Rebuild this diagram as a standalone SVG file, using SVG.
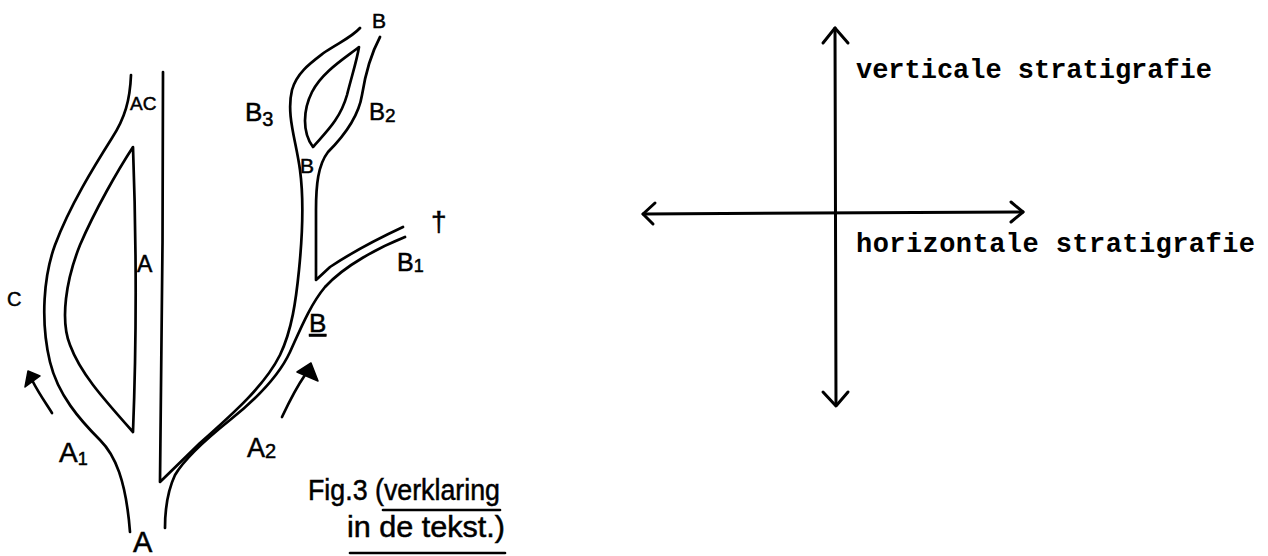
<svg xmlns="http://www.w3.org/2000/svg" width="1268" height="556" viewBox="0 0 1268 556">
<style>
.ln{fill:none;stroke:#000;stroke-width:2.7;stroke-linecap:round;stroke-linejoin:round}
.ax{fill:none;stroke:#000;stroke-width:3;stroke-linecap:round;stroke-linejoin:round}
.hd{fill:#000;stroke:#000;stroke-width:1.5;stroke-linejoin:round}
.lb{font-family:"Liberation Sans","DejaVu Sans",sans-serif;fill:#000;stroke:#000;stroke-width:0.5}
.tw{font-family:"Liberation Mono","DejaVu Sans Mono",monospace;font-weight:bold;fill:#000}
</style>
<rect width="1268" height="556" fill="#fff"/>
<g id="tree">
  <path class="ln" d="M131,75 C130,100 125,118 112,138 C95,165 70,205 55,245 C44,275 40,320 50,362 C58,395 80,420 100,440 C115,455 126,480 130,532"/>
  <path class="ln" d="M133,147 C118,170 95,210 80,245 C66,280 60,320 70,345 C80,372 100,395 133,432 C137,330 136,230 133,147 Z"/>
  <path class="ln" d="M163,72 C163,200 162,380 160,482 L200,443 C235,412 265,385 280,355 C292,330 296,300 299,270 C302,240 304,200 300,170 C296,140 286,115 292,90 C297,72 312,62 325,52 C340,42 352,37 360,28"/>
  <path class="ln" d="M380,37 C372,52 366,70 362,95 C358,120 340,140 328,152 C318,165 316,185 316,210 L316,280 L330,267 C345,257 375,240 403,227"/>
  <path class="ln" d="M405,237 C380,247 345,265 325,287 C310,305 300,330 290,352 C278,378 255,400 230,420 C205,440 185,458 175,475 C168,490 165,510 165,528"/>
  <path class="ln" d="M359,47 C345,58 322,72 312,92 C303,110 302,132 313,147 C325,133 340,120 347,95 C352,75 357,60 359,47 Z"/>
</g>
<g id="flow-arrows">
  <path class="ln" d="M52,413 C45,402 38,392 32,380"/>
  <polygon class="hd" points="25,387 28,371 40,376"/>
  <path class="ln" d="M282,417 C290,400 296,388 305,375"/>
  <polygon class="hd" points="297,372 311,363 318,381"/>
</g>
<g id="tree-labels" class="lb">
  <text x="130" y="110" font-size="19">AC</text>
  <text x="137" y="272" font-size="23">A</text>
  <text x="7" y="306" font-size="20">C</text>
  <text x="133" y="552" font-size="29">A</text>
  <text x="59" y="462" font-size="28">A<tspan font-size="18" dy="3">1</tspan></text>
  <text x="247" y="457" font-size="27">A<tspan font-size="20" dy="1">2</tspan></text>
  <text x="309" y="332" font-size="26" text-decoration="underline">B</text>
  <text x="397" y="271" font-size="25">B<tspan font-size="18" dy="1">1</tspan></text>
  <text x="431" y="231" font-size="28">†</text>
  <text x="372" y="28" font-size="21">B</text>
  <text x="245" y="121" font-size="26">B<tspan font-size="20" dy="5">3</tspan></text>
  <text x="369" y="120" font-size="24">B<tspan font-size="19" dy="2">2</tspan></text>
  <text x="300" y="173" font-size="21">B</text>
</g>
<g id="caption" class="lb">
  <text x="308" y="500" font-size="29" textLength="192" lengthAdjust="spacingAndGlyphs">Fig.3 (verklaring</text>
  <text x="347" y="537" font-size="29" textLength="158" lengthAdjust="spacingAndGlyphs">in de tekst.)</text>
  <line class="ln" x1="383" y1="510" x2="500" y2="510" stroke-width="2"/>
  <line class="ln" x1="350" y1="553" x2="505" y2="553" stroke-width="2"/>
</g>
<g id="connectors">
  <path class="ax" d="M835,28 L836,405"/>
  <path class="ax" d="M823,43 L835,28 L848,43"/>
  <path class="ax" d="M823,392 L836,406 L848,392"/>
  <path class="ax" d="M643,214 L1023,212"/>
  <path class="ax" d="M655,203 L643,214 L653,224"/>
  <path class="ax" d="M1011,202 L1023,212 L1011,222"/>
</g>
<g id="axis-labels" class="tw">
  <text x="856" y="78" font-size="27" textLength="356" lengthAdjust="spacing">verticale stratigrafie</text>
  <text x="856" y="252" font-size="27" textLength="399" lengthAdjust="spacing">horizontale stratigrafie</text>
</g>
</svg>
